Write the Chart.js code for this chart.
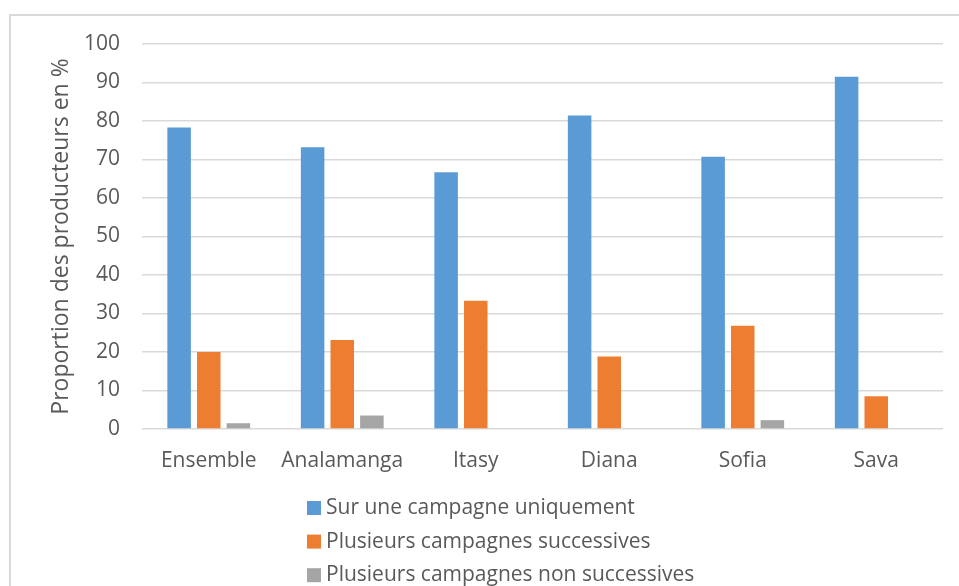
<!DOCTYPE html>
<html>
<head>
<meta charset="utf-8">
<script src="https://cdn.jsdelivr.net/npm/chart.js@4/dist/chart.umd.min.js"></script>
<style>
  html, body { margin: 0; padding: 0; background: #ffffff; }
  #wrap { position: relative; width: 959px; height: 586px; }
</style>
</head>
<body>
<div id="wrap"><canvas id="c"></canvas></div>
<script>
// ---- Data ----
const categories = ["Ensemble", "Analamanga", "Itasy", "Diana", "Sofia", "Sava"];
const seriesNames = ["Sur une campagne uniquement", "Plusieurs campagnes successives", "Plusieurs campagnes non successives"];
const surUneCampagne = [78.3, 73.2, 66.7, 81.4, 70.7, 91.5];
const plusieursSuccessives = [20.0, 23.1, 33.3, 18.8, 26.8, 8.5];
const plusieursNonSuccessives = [1.5, 3.5, 0, 0, 2.3, 0];
const yTitle = "Proportion des producteurs en %";

const colors = ["#5B9BD5", "#ED7D31", "#A5A5A5"];
const textColor = "#595959";
const gridColor = "#D9D9D9";
const fontFamily = "'Open Sans', 'DejaVu Sans', sans-serif";

// Frame plugin (outer chart border)
const framePlugin = {
  id: 'frame',
  beforeDraw(chart) {
    const ctx = chart.ctx;
    ctx.save();
    ctx.strokeStyle = gridColor;
    ctx.lineWidth = 2;
    ctx.strokeRect(10, 15, 1000, 1000);
    ctx.restore();
  }
};

// Vertical legend drawn below the x axis
const vLegendPlugin = {
  id: 'vLegend',
  afterDraw(chart) {
    const ctx = chart.ctx;
    const opts = chart.options.plugins.vLegend;
    ctx.save();
    ctx.font = "21px " + fontFamily;
    ctx.textBaseline = 'middle';
    ctx.textAlign = 'left';
    chart.data.datasets.forEach((ds, i) => {
      const y = opts.top + i * opts.rowHeight;
      ctx.fillStyle = ds.backgroundColor;
      ctx.fillRect(opts.left, y - 7, 14, 14);
      ctx.fillStyle = textColor;
      ctx.fillText(ds.label, opts.left + 19, y);
    });
    ctx.restore();
  }
};

const datasets = [surUneCampagne, plusieursSuccessives, plusieursNonSuccessives].map((d, i) => ({
  label: seriesNames[i],
  data: d,
  backgroundColor: colors[i],
  borderWidth: 0,
  categoryPercentage: 0.666,
  barPercentage: 0.794
}));

new Chart(document.getElementById('c'), {
  type: 'bar',
  data: { labels: categories, datasets },
  options: {
    responsive: true,
    maintainAspectRatio: false,
    devicePixelRatio: 1,
    animation: false,
    layout: { padding: { left: 40, right: 16, top: 44, bottom: 114 } },
    plugins: {
      legend: { display: false },
      tooltip: { enabled: false },
      vLegend: { left: 307, top: 508, rowHeight: 33.6 }
    },
    scales: {
      x: {
        grid: { display: false, drawTicks: false },
        border: { display: false },
        ticks: { color: textColor, font: { family: fontFamily, size: 21 }, padding: 19, maxRotation: 0, autoSkip: false },
        afterFit(s) { s.height = 43; }
      },
      y: {
        min: 0, max: 100,
        grid: { color: gridColor, lineWidth: 1.5, drawTicks: false },
        border: { display: false },
        ticks: { stepSize: 10, color: textColor, font: { family: fontFamily, size: 21 }, padding: 22 },
        title: {
          display: true, text: yTitle, color: textColor,
          font: { family: fontFamily, size: 23 },
          padding: { top: 8, bottom: 0 }
        },
        afterFit(s) { s.width = 102; }
      }
    }
  },
  plugins: [framePlugin, vLegendPlugin]
});
</script>
</body>
</html>
